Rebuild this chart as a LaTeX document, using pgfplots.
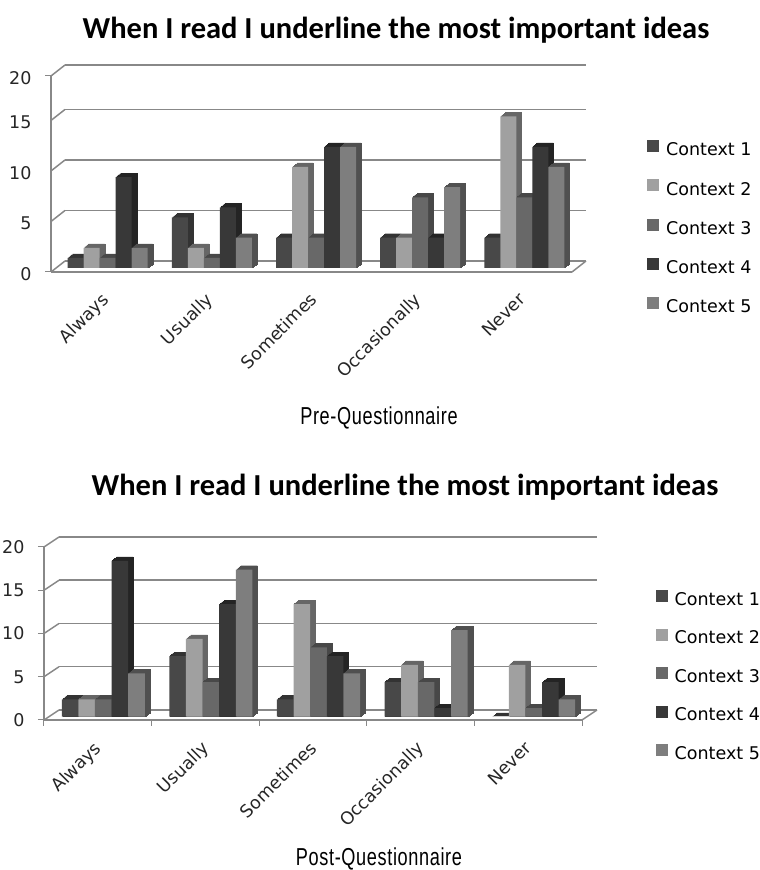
\documentclass[border=0pt]{standalone}
\usepackage{fontspec}
\setmainfont{DejaVu Sans}
\newfontfamily\titlefont{Carlito}
\newfontfamily\subfont[FakeStretch=0.74,LetterSpace=2.6]{Liberation Sans}
\usepackage{pgfplots}
\usepackage{pgfplotstable}
\pgfplotsset{compat=1.18}

\definecolor{c1}{HTML}{484848}
\definecolor{c2}{HTML}{A0A0A0}
\definecolor{c3}{HTML}{686868}
\definecolor{c4}{HTML}{383838}
\definecolor{c5}{HTML}{7E7E7E}
\definecolor{s1}{HTML}{333333}
\definecolor{s2}{HTML}{666666}
\definecolor{s3}{HTML}{484848}
\definecolor{s4}{HTML}{242424}
\definecolor{s5}{HTML}{505050}
\definecolor{axisgray}{HTML}{888888}

\pgfplotstableread{
x c1 c2 c3 c4 c5
0 1 2 1 9 2
1 5 2 1 6 3
2 3 10 3 12 12
3 3 3 7 3 8
4 3 15 7 12 10
}\predata

\pgfplotstableread{
x c1 c2 c3 c4 c5
0 2 2 2 18 5
1 7 9 4 13 17
2 2 13 8 7 5
3 4 6 4 1 10
4 0 6 1 4 2
}\postdata

% one series: depth copies in the side colour, then the front face
% #1 table, #2 column, #3 bar shift in pt, #4 name suffix
\newcommand\ctxbar[4]{%
  \pgfplotsinvokeforeach{5,4,3,2,1}{%
    \addplot[forget plot,fill=s#4,draw=s#4,line width=.2pt,bar shift=#3pt,
      xshift=\basex pt+##1pt,yshift=\basey pt+##1*.8pt] table[x=x,y=#2] {#1};
  }%
  \addplot[fill=c#4,draw=none,bar shift=#3pt,
    xshift=\basex pt,yshift=\basey pt] table[x=x,y=#2] {#1};
}

\pgfplotsset{
  ctxaxis/.style={
    ybar,
    scale only axis,
    clip=false,
    xmin=-0.5,xmax=4.5,ymin=0,
    axis x line*=bottom,
    axis y line*=left,
    axis line style={axisgray,line width=1.5pt,-},
    xtick={0,1,2,3,4},
    xticklabels={Always,Usually,Sometimes,Occasionally,Never},
    major x tick style={draw=none},
    ytick style={axisgray,line width=1pt},
    major tick length=6pt,
    tick align=outside,
    ymajorgrids=true,
    tick label style={font=\fontsize{17.5}{20}\selectfont,text=black!85},
    xticklabel style={rotate=45,anchor=north east},
    legend style={draw=none,fill=none,font=\fontsize{17.5}{20}\selectfont,
      row sep=20pt,anchor=north west,legend cell align=left},
    legend image code/.code={\fill[##1] (0pt,-6pt) rectangle (12pt,6pt);\path (17pt,0pt);},
  },
}

\begin{document}
\begin{tikzpicture}[x=1pt,y=1pt]
\useasboundingbox (0,0) rectangle (760,870);

% Pre-Questionnaire
\def\basex{4.5}\def\basey{4}
\begin{axis}[ctxaxis,
  at={(51pt,598pt)},anchor=south west,
  width=521pt,height=196pt,
  ymax=19.4,
  ytick={0,5,10,15,19.4},
  yticklabels={0,5,10,15,20},
  major y tick style={draw=none},
  bar width=16pt,
  grid style={axisgray,line width=1.5pt,xshift=14pt,yshift=11pt},
  xticklabel style={xshift=-8pt,yshift=-4pt},
  yticklabel style={xshift=-10pt,yshift=-2pt},
  legend style={at={(1,1)},xshift=72pt,yshift=-62pt},
]
\ctxbar{\predata}{c1}{-32}{1}
\ctxbar{\predata}{c2}{-16}{2}
\ctxbar{\predata}{c3}{0}{3}
\ctxbar{\predata}{c4}{16}{4}
\ctxbar{\predata}{c5}{32}{5}
\legend{Context 1,Context 2,Context 3,Context 4,Context 5}
\pgfplotsinvokeforeach{0,5,10,15,19.4}{
  \draw[axisgray,line width=1.5pt] (axis cs:-0.5,#1) -- ++(14pt,11pt);
}
\draw[axisgray,line width=1.5pt] (axis cs:4.5,0) -- ++(14pt,11pt);
\draw[axisgray,line width=1pt] (axis cs:-0.5,0) -- ++(-6pt,0pt);
\draw[axisgray,line width=1pt] (axis cs:-0.5,19.4) -- ++(-6pt,0pt);
\end{axis}

% Post-Questionnaire
\def\basex{5.5}\def\basey{3.3}
\begin{axis}[ctxaxis,
  at={(44pt,150pt)},anchor=south west,
  width=538pt,height=173pt,
  ymax=20,
  ytick={0,5,10,15,20},
  yticklabels={0,5,10,15,20},
  bar width=16.6pt,
  grid style={axisgray,line width=1.5pt,xshift=15pt,yshift=10pt},
  minor xtick={-0.5,0.5,1.5,2.5,3.5,4.5},
  minor x tick style={axisgray,line width=1pt},
  minor tick length=6pt,
  xticklabel style={xshift=-10pt,yshift=-3pt},
  yticklabel style={xshift=-10pt},
  legend style={at={(1,1)},xshift=70.5pt,yshift=-41pt},
]
\ctxbar{\postdata}{c1}{-33.2}{1}
\ctxbar{\postdata}{c2}{-16.6}{2}
\ctxbar{\postdata}{c3}{0}{3}
\ctxbar{\postdata}{c4}{16.6}{4}
\ctxbar{\postdata}{c5}{33.2}{5}
\legend{Context 1,Context 2,Context 3,Context 4,Context 5}
\pgfplotsinvokeforeach{0,5,10,15,20}{
  \draw[axisgray,line width=1.5pt] (axis cs:-0.5,#1) -- ++(15pt,10pt);
}
\draw[axisgray,line width=1.5pt] (axis cs:4.5,0) -- ++(15pt,10pt);
\end{axis}

\node[font=\titlefont\bfseries\fontsize{30.5}{34}\selectfont] at (396,840) {When I read I underline the most important ideas};
\node[font=\titlefont\bfseries\fontsize{30.5}{34}\selectfont] at (405,383) {When I read I underline the most important ideas};
\node[inner sep=0pt,font=\subfont\fontsize{24.5}{28}\selectfont] at (379,452) {Pre-Questionnaire};
\node[inner sep=0pt,font=\subfont\fontsize{24.5}{28}\selectfont] at (379,11) {Post-Questionnaire};
\end{tikzpicture}
\end{document}
